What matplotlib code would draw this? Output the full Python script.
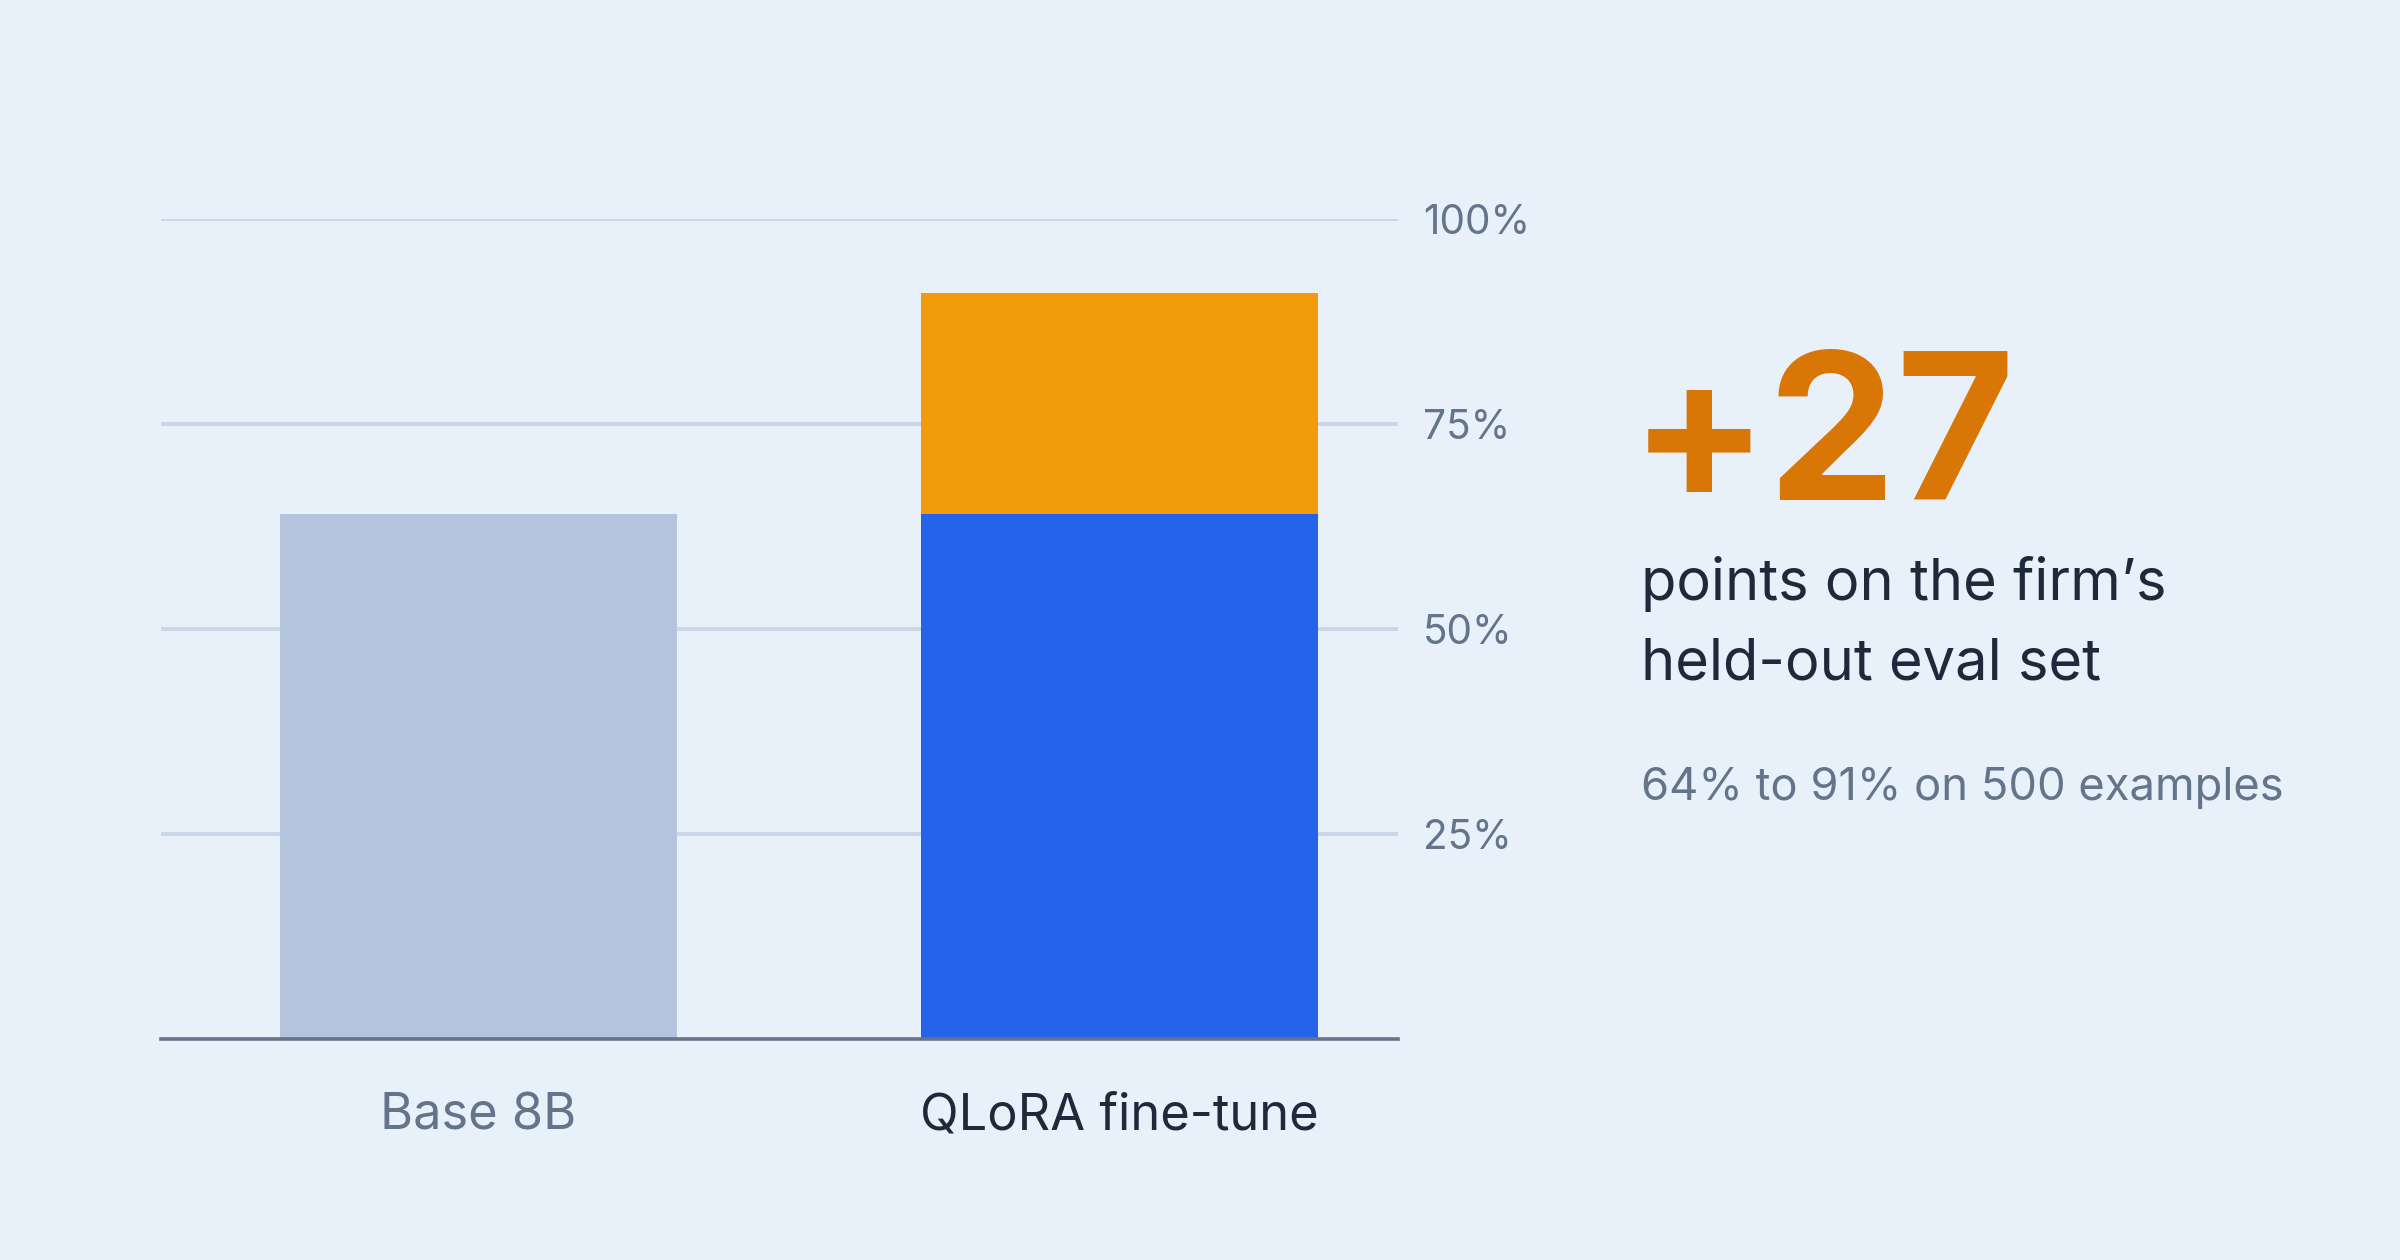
import matplotlib
matplotlib.use("Agg")
import matplotlib.pyplot as plt

# data
categories = ["Base 8B", "QLoRA fine-tune"]
base_score = [64, 64]          # shared base part of each bar
gain = [0, 27]                 # improvement from fine-tuning
yticks = [25, 50, 75, 100]
ytick_labels = ["25%", "50%", "75%", "100%"]

headline = "+27"
sub_lines = ["points on the firm\u2019s", "held-out eval set"]
note = "64% to 91% on 500 examples"

bg = "#e8f0fa"
plt.rcParams['font.family'] = ['Inter', 'DejaVu Sans']

fig = plt.figure(figsize=(12, 6.3), dpi=200, facecolor=bg)
W, H = 2400, 1260
ax = fig.add_axes([160.7 / W, (H - 1039) / H, 1237 / W, 820 / H])
ax.set_facecolor(bg)

x = [0, 1]
ax.bar(x[0], base_score[0], width=0.62, color="#b4c4dc", zorder=3)
ax.bar(x[1], base_score[1], width=0.62, color="#2563eb", zorder=3)
ax.bar(x[1], gain[1], bottom=base_score[1], width=0.62, color="#f39c0b", zorder=3)

ax.set_xlim(-0.496, 1.434)
ax.set_ylim(0, 100)

for t in yticks:
    ax.axhline(t, color="#c9d7ea", linewidth=1.4, zorder=1)
ax.axhline(0, color="#64748b", linewidth=1.3, zorder=4, clip_on=False)

for s in ax.spines.values():
    s.set_visible(False)

ax.yaxis.tick_right()
ax.set_yticks(yticks)
ax.set_yticklabels(ytick_labels, fontsize=14.6, color="#64748b")
ax.tick_params(axis="y", length=0, pad=9.2)

ax.set_xticks(x)
ax.set_xticklabels(categories, fontsize=18.2)
ax.tick_params(axis="x", length=0, pad=19.2)
lbls = ax.get_xticklabels()
lbls[0].set_color("#64748b")
lbls[1].set_color("#1e293b")

# right-hand annotation
fig.text(1630 / W, 1 - 500 / H, headline, fontsize=73.5, fontweight="bold",
         color="#d97706", va="baseline", ha="left")
fig.text(1641 / W, 1 - 600 / H, sub_lines[0], fontsize=20.8, color="#1e293b",
         va="baseline", ha="left")
fig.text(1641 / W, 1 - 680 / H, sub_lines[1], fontsize=20.8, color="#1e293b",
         va="baseline", ha="left")
fig.text(1641 / W, 1 - 800 / H, note, fontsize=16.3, color="#64748b",
         va="baseline", ha="left")

plt.savefig("out.png", dpi=200, facecolor=bg)
